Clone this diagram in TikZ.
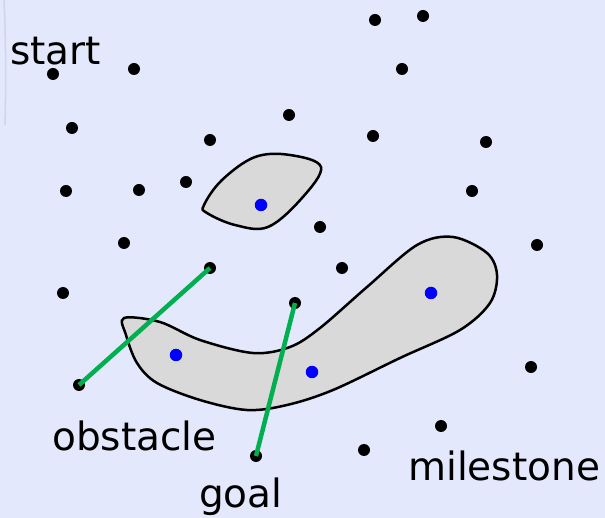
\documentclass[tikz,border=0pt]{standalone}
\usepackage{fontspec}
\setmainfont{DejaVu Sans}
\definecolor{bg}{RGB}{228,232,252}
\definecolor{faint}{RGB}{208,212,236}
\definecolor{obst}{RGB}{217,217,217}
\definecolor{edgegreen}{RGB}{0,176,80}
\tikzset{
  dot/.style={circle,fill=black,inner sep=0pt,minimum size=12pt},
  bdot/.style={circle,fill=blue,inner sep=0pt,minimum size=12.5pt},
  obstacle/.style={draw=black,line width=2.5pt,fill=obst},
  edge/.style={draw=edgegreen,line width=4.5pt},
  lbl/.style={anchor=base west,inner sep=0pt,font=\fontsize{39}{44}\selectfont}
}
\begin{document}
\begin{tikzpicture}[x=1pt,y=-1pt]
\fill[bg] (0,0) rectangle (605,518);
\useasboundingbox (0,0) rectangle (605,518);
\draw[faint,line width=1.5pt] (4,0) .. controls (6,40) and (6,90) .. (5,125);
% obstacles
\path[obstacle] plot[smooth cycle,tension=0.6] coordinates {(204,205) (222,180) (255,157) (290,155) (321,167) (302,198) (268,227) (235,225) (207,213)};
\path[obstacle] plot[smooth cycle,tension=0.55] coordinates {(124,318) (160,322) (200,340) (253,353) (290,347) (320,328) (367,287) (417,245) (453,237) (487,253) (497,275) (490,303) (460,330) (400,358) (333,390) (287,405) (247,410) (200,400) (157,383) (137,363) (126,335)};
% black milestones
\foreach \n/\x/\y in {a/53/74,b/134/69,c/375/20,d/423/16,e/402/69,f/72/128,g/289/115,h/210/140,i/373/136,j/486/142,k/66/191,l/139/190,m/186/182,n/472/191,o/320/227,p/124/243,q/537/245,r/210/268,s/342/268,t/63/293,u/295/303,v/79/385,w/531/367,x/441/426,y/364/450,z/256/456}
  \node[dot] (\n) at (\x,\y) {};
% blue dots
\foreach \n/\x/\y in {b1/261/205,b2/176/355,b3/312/372,b4/431/293}
  \node[bdot] (\n) at (\x,\y) {};
% edges
\draw[edge] (r.center) -- (v.center);
\draw[edge] (u.center) -- (z.center);
% labels
\node[lbl] (tstart) at (10,65) {start};
\node[lbl] (tobst) at (52,450) {obstacle};
\node[lbl] (tgoal) at (199,507) {goal};
\node[lbl] (tmile) at (408,480) {milestone};
\end{tikzpicture}
\end{document}
